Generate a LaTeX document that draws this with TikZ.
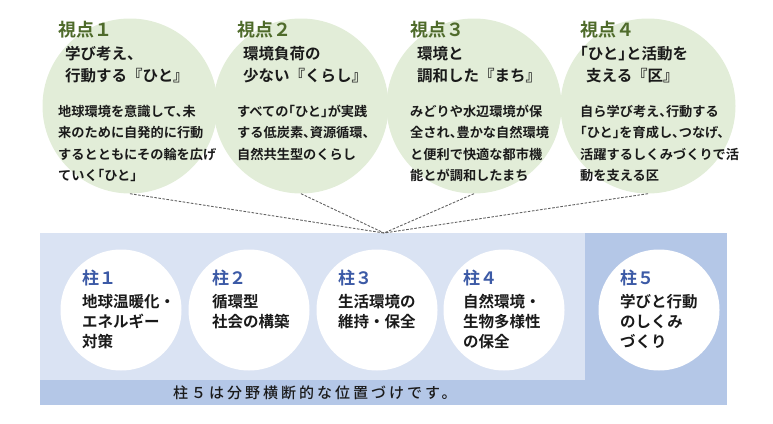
\documentclass[tikz,border=0pt]{standalone}
\usepackage{fontspec}
\newfontfamily\jp{Noto Sans CJK JP}[BoldFont={Noto Sans CJK JP Bold}]
\newfontfamily\jph{Noto Sans CJK JP Bold}[RawFeature=+halt]
\newfontfamily\jpm{Noto Sans CJK JP Medium}
\definecolor{vgreen}{HTML}{E2EDD8}
\definecolor{vtitle}{HTML}{4F6B2B}
\definecolor{lblue}{HTML}{DAE3F3}
\definecolor{dblue}{HTML}{B4C7E7}
\definecolor{ptitle}{HTML}{3C5AA6}
\definecolor{ink}{HTML}{1A1A1A}
\newcommand\txtlines[6]{%
  \foreach \t [count=\k] in {#6} {%
    \node[#1, name=#2\k, anchor=base west, inner sep=0pt] at (#3, {#4+(\k-1)*#5}) {\t};}}
\begin{document}
\begin{tikzpicture}[x=1pt,y=-1pt,
  gcirc/.style={circle, fill=vgreen, minimum size=175pt, inner sep=0pt},
  wcirc/.style={circle, fill=white, minimum size=121pt, inner sep=0pt},
  dashline/.style={draw=black!62, line width=0.9pt, dash pattern=on 2.6pt off 1.5pt},
  vhead/.style={font=\jp\bfseries\fontsize{18}{18}\selectfont, text=vtitle},
  vsub/.style={font=\jp\bfseries\fontsize{15.5}{15.5}\selectfont, text=ink},
  vsubh/.style={font=\jph\fontsize{15.5}{15.5}\selectfont, text=ink},
  vdesc/.style={font=\jph\fontsize{13.2}{13.2}\selectfont, text=ink},
  phead/.style={font=\jp\bfseries\fontsize{17}{17}\selectfont, text=ptitle},
  ptext/.style={font=\jp\bfseries\fontsize{15.5}{15.5}\selectfont, text=ink},
  note/.style={font=\jpm\fontsize{15}{15}\selectfont\addfontfeature{LetterSpace=20}, text=ink}]
\useasboundingbox (0,0) rectangle (773,423);
% panels
\fill[lblue] (40,233) rectangle (585,380);
\fill[dblue] (585,233) rectangle (727,405);
\fill[dblue] (40,380) rectangle (727,405);
% top circles
\node[gcirc] (v1) at (130,106) {};
\node[gcirc] (v2) at (301,106) {};
\node[gcirc] (v3) at (474,106) {};
\node[gcirc] (v4) at (648,106) {};
\coordinate (conv) at (384,233);
\foreach \i in {1,2,3,4} {\draw[dashline] (v\i.south) -- (conv);}
% viewpoint 1
\node[vhead, anchor=base west, inner sep=0pt] (h1) at (58,36) {視点１};
\txtlines{vsub}{s1l}{65}{59.5}{21.5}{学び考え、,行動する『ひと』}
\txtlines{vdesc}{d1l}{58}{116}{21.5}{地球環境を意識して、未,来のために自発的に行動,するとともにその輪を広げ,ていく「ひと」}
% viewpoint 2
\node[vhead, anchor=base west, inner sep=0pt] (h2) at (237,36) {視点２};
\txtlines{vsub}{s2l}{243}{59.5}{21.5}{環境負荷の,少ない『くらし』}
\txtlines{vdesc}{d2l}{237}{116}{21.5}{すべての「ひと」が実践,する低炭素、資源循環、,自然共生型のくらし}
% viewpoint 3
\node[vhead, anchor=base west, inner sep=0pt] (h3) at (410,36) {視点３};
\txtlines{vsub}{s3l}{417}{59.5}{21.5}{環境と,調和した『まち』}
\txtlines{vdesc}{d3l}{410}{116}{21.5}{みどりや水辺環境が保,全され、豊かな自然環境,と便利で快適な都市機,能とが調和したまち}
% viewpoint 4
\node[vhead, anchor=base west, inner sep=0pt] (h4) at (580,36) {視点４};
\node[vsubh, anchor=base west, inner sep=0pt] (s4l1) at (580,59.5) {「ひと」と活動を};
\node[vsub, anchor=base west, inner sep=0pt] (s4l2) at (586,81) {支える『区』};
\txtlines{vdesc}{d4l}{580}{116}{21.5}{自ら学び考え、行動する,「ひと」を育成し、つなげ、,活躍するしくみづくりで活,動を支える区}
% pillars
\node[wcirc] (p1) at (121,310) {};
\node[wcirc] (p2) at (249,310) {};
\node[wcirc] (p3) at (377,310) {};
\node[wcirc] (p4) at (504,310) {};
\node[wcirc] (p5) at (659,310) {};
\node[phead, anchor=base west, inner sep=0pt] (ph1) at (82,284) {柱１};
\txtlines{ptext}{p1l}{82}{307}{20}{地球温暖化・,エネルギー,対策}
\node[phead, anchor=base west, inner sep=0pt] (ph2) at (212,284) {柱２};
\txtlines{ptext}{p2l}{212}{307}{20}{循環型,社会の構築}
\node[phead, anchor=base west, inner sep=0pt] (ph3) at (338,284) {柱３};
\txtlines{ptext}{p3l}{338}{307}{20}{生活環境の,維持・保全}
\node[phead, anchor=base west, inner sep=0pt] (ph4) at (463,284) {柱４};
\txtlines{ptext}{p4l}{463}{307}{20}{自然環境・,生物多様性,の保全}
\node[phead, anchor=base west, inner sep=0pt] (ph5) at (620,284) {柱５};
\txtlines{ptext}{p5l}{620}{307}{20}{学びと行動,のしくみ,づくり}
% note
\node[note, anchor=base west, inner sep=0pt] (nt) at (173,398) {柱５は分野横断的な位置づけです。};
\end{tikzpicture}
\end{document}
